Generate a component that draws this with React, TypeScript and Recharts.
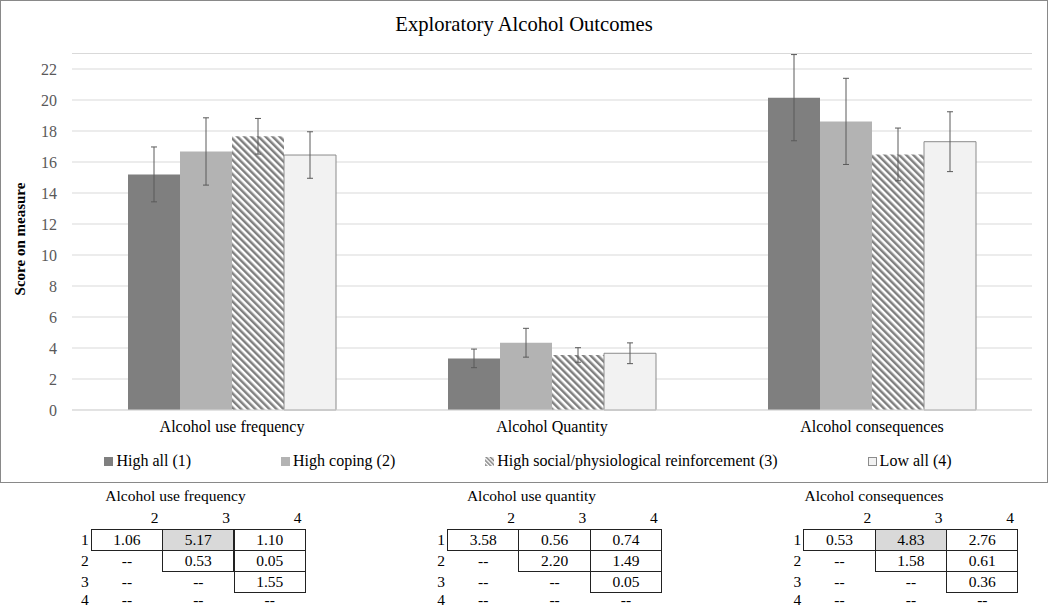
import React from 'react';
import { BarChart, Bar, XAxis, YAxis, CartesianGrid, ErrorBar, Label } from 'recharts';

const FONT = '"Liberation Serif", "Times New Roman", serif';

const CATEGORIES = ['Alcohol use frequency', 'Alcohol Quantity', 'Alcohol consequences'];
const SERIES_NAMES = ['High all (1)', 'High coping (2)', 'High social/physiological reinforcement (3)', 'Low all (4)'];

const HIGH_ALL = [15.2, 3.33, 20.15];
const HIGH_ALL_ERR = [1.77, 0.6, 2.78];
const HIGH_COPING = [16.68, 4.34, 18.62];
const HIGH_COPING_ERR = [2.17, 0.93, 2.78];
const HIGH_SOCIAL = [17.66, 3.55, 16.49];
const HIGH_SOCIAL_ERR = [1.15, 0.47, 1.7];
const LOW_ALL = [16.45, 3.66, 17.31];
const LOW_ALL_ERR = [1.5, 0.67, 1.93];

const Y_TICKS = [0, 2, 4, 6, 8, 10, 12, 14, 16, 18, 20, 22];

// pairwise effect tables shown under the chart
const TABLE_TITLES = ['Alcohol use frequency', 'Alcohol use quantity', 'Alcohol consequences'];
const COL_LABELS = ['2', '3', '4'];
const ROW_LABELS = ['1', '2', '3', '4'];
const FREQ_TABLE = [['1.06', '5.17', '1.10'], ['--', '0.53', '0.05'], ['--', '--', '1.55'], ['--', '--', '--']];
const QUANT_TABLE = [['3.58', '0.56', '0.74'], ['--', '2.20', '1.49'], ['--', '--', '0.05'], ['--', '--', '--']];
const CONS_TABLE = [['0.53', '4.83', '2.76'], ['--', '1.58', '0.61'], ['--', '--', '0.36'], ['--', '--', '--']];
const HIGHLIGHTED = [['0-1'], [], ['0-1']];

const data = CATEGORIES.map((name, i) => ({
  name,
  v1: HIGH_ALL[i], e1: HIGH_ALL_ERR[i],
  v2: HIGH_COPING[i], e2: HIGH_COPING_ERR[i],
  v3: HIGH_SOCIAL[i], e3: HIGH_SOCIAL_ERR[i],
  v4: LOW_ALL[i], e4: LOW_ALL_ERR[i],
}));

const ERR_COLOR = '#5a5a5a';
const FILLS = ['#7f7f7f', '#b3b3b3', 'url(#hatch)', '#f2f2f2'];

const Marker = ({ i }) => {
  if (i === 2) {
    return (
      <svg width={9} height={9} style={{ marginRight: 3 }}>
        <defs>
          <pattern id="hatchSmall" width={3} height={3} patternUnits="userSpaceOnUse" patternTransform="rotate(-45)">
            <rect width={3} height={3} fill="#fff" />
            <rect width={1.5} height={3} fill="#808080" />
          </pattern>
        </defs>
        <rect width={9} height={9} fill="url(#hatchSmall)" />
      </svg>
    );
  }
  return (
    <span style={{
      display: 'inline-block', width: 9, height: 9, marginRight: 3, boxSizing: 'border-box',
      background: FILLS[i], border: i === 3 ? '1px solid #8c8c8c' : 'none',
    }} />
  );
};

const YTitle = () => (
  <text x={19} y={238} transform="rotate(-90, 19, 238)" textAnchor="middle" dominantBaseline="central"
    fontSize={15} fontWeight="bold" fill="#000">
    Score on measure
  </text>
);

const CELL_W = 71.4;
const ROW_H = 21;
const TABLE_TOP = 529;

function PairTable({ title, rows, highlight, left, titleCenter }) {
  return (
    <>
      <div style={{ position: 'absolute', left: titleCenter - 100, width: 200, top: 486, lineHeight: '20px', textAlign: 'center', fontSize: 15.5 }}>
        {title}
      </div>
      {COL_LABELS.map((c, j) => (
        <div key={c} style={{ position: 'absolute', left: left + j * CELL_W, width: CELL_W - 3.5, top: 508, lineHeight: '20px', textAlign: 'right', fontSize: 15.5 }}>
          {c}
        </div>
      ))}
      {rows.map((row, i) => {
        const last = i === rows.length - 1;
        // last row sits at the page edge: keep its text inside the frame
        const top = last ? 591 : TABLE_TOP + i * ROW_H;
        const lh = last ? 18 : ROW_H;
        return (
          <React.Fragment key={i}>
            <div style={{ position: 'absolute', left: left - 22, width: 20, top, lineHeight: lh + 'px', textAlign: 'right', fontSize: 15.5 }}>
              {ROW_LABELS[i]}
            </div>
            {row.map((v, j) => {
              const boxed = v !== '--';
              return (
                <div key={j} style={{
                  position: 'absolute', left: left + j * CELL_W, top,
                  width: CELL_W + 1, height: boxed ? ROW_H + 1 : lh, boxSizing: 'border-box',
                  border: boxed ? '1px solid #222' : 'none',
                  background: highlight.includes(i + '-' + j) ? '#d9d9d9' : 'transparent',
                  lineHeight: (boxed ? ROW_H - 1 : lh) + 'px', textAlign: 'center', fontSize: 15.5,
                }}>
                  {v}
                </div>
              );
            })}
          </React.Fragment>
        );
      })}
    </>
  );
}

export default function App() {
  const tables = [FREQ_TABLE, QUANT_TABLE, CONS_TABLE];
  const tableLeft = [90.7, 447, 803.3];
  const titleCenter = [175.5, 531.5, 874];
  return (
    <div style={{ position: 'absolute', left: 0, top: 0, width: 1050, height: 609, background: '#fff', fontFamily: FONT, color: '#000', overflow: 'hidden' }}>
      <div style={{ position: 'absolute', left: 0, top: 0, width: 1048, height: 483, border: '1px solid #898989', boxSizing: 'border-box' }}>
        <BarChart width={1046} height={481} data={data} barCategoryGap="17.5%" barGap={0}
          margin={{ top: 52.5, right: 15, left: 0, bottom: 42 }}>
          <defs>
            <pattern id="hatch" width={5} height={5} patternUnits="userSpaceOnUse" patternTransform="rotate(-45)">
              <rect width={5} height={5} fill="#fff" />
              <rect width={2.5} height={5} fill="#808080" />
            </pattern>
          </defs>
          <CartesianGrid vertical={false} stroke="#d9d9d9" />
          <XAxis dataKey="name" interval={0} tickLine={false} axisLine={{ stroke: '#d9d9d9' }}
            tick={{ fontSize: 16, fill: '#000' }} tickMargin={5} height={30} />
          <YAxis domain={[0, 23]} ticks={Y_TICKS} width={71} tickLine={false} axisLine={false}
            tick={{ fontSize: 16, fill: '#595959' }} tickMargin={9}>
            <Label content={<YTitle />} />
          </YAxis>
          <Bar dataKey="v1" name={SERIES_NAMES[0]} fill={FILLS[0]} isAnimationActive={false}>
            <ErrorBar dataKey="e1" direction="y" width={3} stroke={ERR_COLOR} strokeWidth={1} />
          </Bar>
          <Bar dataKey="v2" name={SERIES_NAMES[1]} fill={FILLS[1]} isAnimationActive={false}>
            <ErrorBar dataKey="e2" direction="y" width={3} stroke={ERR_COLOR} strokeWidth={1} />
          </Bar>
          <Bar dataKey="v3" name={SERIES_NAMES[2]} fill={FILLS[2]} isAnimationActive={false}>
            <ErrorBar dataKey="e3" direction="y" width={3} stroke={ERR_COLOR} strokeWidth={1} />
          </Bar>
          <Bar dataKey="v4" name={SERIES_NAMES[3]} fill={FILLS[3]} stroke="#8c8c8c" strokeWidth={1} isAnimationActive={false}>
            <ErrorBar dataKey="e4" direction="y" width={3} stroke={ERR_COLOR} strokeWidth={1} />
          </Bar>
        </BarChart>
        <div style={{ position: 'absolute', left: 0, top: 11, width: 1046, textAlign: 'center', fontSize: 20.6, lineHeight: '24px' }}>
          Exploratory Alcohol Outcomes
        </div>
        <div style={{ position: 'absolute', left: 5, top: 450, width: 1044, height: 20, display: 'flex', justifyContent: 'center', alignItems: 'center', gap: 90, fontSize: 16, lineHeight: '20px' }}>
          {SERIES_NAMES.map((s, i) => (
            <div key={s} style={{ display: 'flex', alignItems: 'center', whiteSpace: 'nowrap' }}>
              <Marker i={i} />
              <span>{s}</span>
            </div>
          ))}
        </div>
      </div>
      {tables.map((t, k) => (
        <PairTable key={k} title={TABLE_TITLES[k]} rows={t} highlight={HIGHLIGHTED[k]} left={tableLeft[k]} titleCenter={titleCenter[k]} />
      ))}
    </div>
  );
}
